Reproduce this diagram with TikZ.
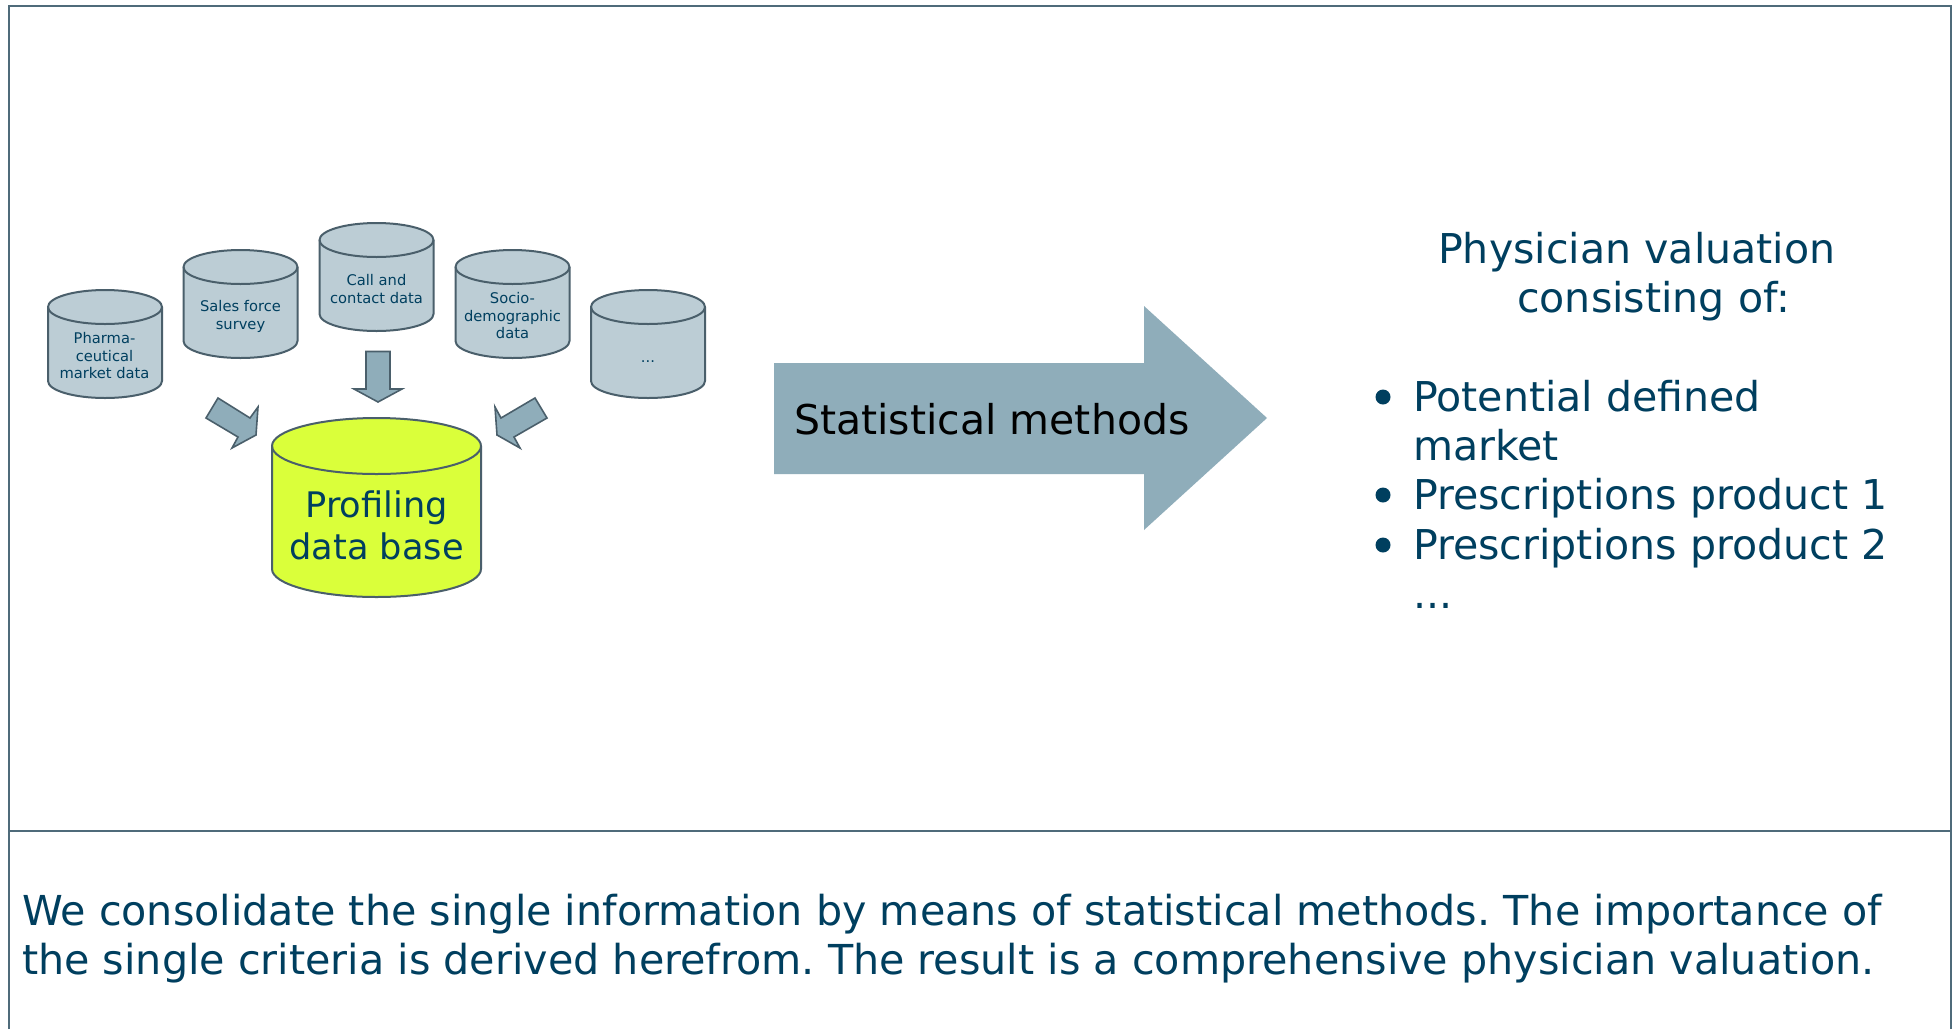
\documentclass[tikz,border=0pt]{standalone}
\usepackage{fontspec}
\setmainfont{DejaVu Sans}
\frenchspacing
\definecolor{inkblue}{HTML}{003F5F}
\definecolor{framecol}{HTML}{4F6B7A}
\definecolor{cylfill}{HTML}{BCCDD5}
\definecolor{arrfill}{HTML}{8FADBA}
\definecolor{yellowfill}{HTML}{DAFF3A}
\definecolor{edgecol}{HTML}{4A5F6B}
\newcommand{\fnt}[1]{\fontsize{#1}{#1}\selectfont}
% centre x, top y, bottom y, half width, half ellipse height, fill
\newcommand{\drum}[6]{%
  \filldraw[cyledge,fill=#6] (#1-#4,#2+#5) -- (#1-#4,#3-#5)
    arc[start angle=180,end angle=0,x radius=#4,y radius=#5]
    -- (#1+#4,#2+#5)
    arc[start angle=0,end angle=-180,x radius=#4,y radius=#5] -- cycle;
  \draw[cyledge] (#1-#4,#2+#5) arc[start angle=180,end angle=0,x radius=#4,y radius=#5];
}
\tikzset{
  cyledge/.style={draw=edgecol,line width=2pt,line join=round},
  flowarrow/.style={draw=edgecol,line width=1.6pt,fill=arrfill,line join=miter},
  small/.style={text=inkblue,font=\fnt{14.7},anchor=base,inner sep=0pt},
  bigtext/.style={text=inkblue,font=\fnt{41.1},anchor=base west,inner sep=0pt},
  bottomtext/.style={text=inkblue,font=\fnt{41.25},anchor=base west,inner sep=0pt},
  dbtext/.style={text=inkblue,font=\fnt{35.2},anchor=base,inner sep=0pt},
}
\begin{document}
\begin{tikzpicture}[x=1pt,y=-1pt]
\useasboundingbox (0,0) rectangle (1952,1029);
\fill[white] (0,0) rectangle (1952,1029);
% frame
\draw[framecol,line width=2pt] (8.5,1029) -- (8.5,6) -- (1950.5,6) -- (1950.5,1029);
\draw[framecol,line width=2pt] (8.5,830.5) -- (1952,830.5);
% data source drums
\drum{105}{290}{398}{57}{17}{cylfill}
\drum{240.5}{250}{358}{57}{17}{cylfill}
\drum{376.5}{223}{331}{57}{17}{cylfill}
\drum{512.5}{250}{358}{57}{17}{cylfill}
\drum{648}{290}{398}{57}{17}{cylfill}
\drum{376.5}{418}{597}{104.5}{28}{yellowfill}
% labels
\node[small] (t1a) at (104.5,343) {Pharma-};
\node[small] (t1b) at (104.5,361) {ceutical};
\node[small] (t1c) at (104.5,378) {market data};
\node[small] (t2a) at (240.5,311) {Sales force};
\node[small] (t2b) at (240.5,329) {survey};
\node[small] (t3a) at (376.5,285) {Call and};
\node[small] (t3b) at (376.5,303) {contact data};
\node[small] (t4a) at (512.5,303) {Socio-};
\node[small] (t4b) at (512.5,321) {demographic};
\node[small] (t4c) at (512.5,338) {data};
\node[small] (t5a) at (648,362) {...};
\node[dbtext] (db1) at (376.5,517) {Profiling};
\node[dbtext] (db2) at (376.5,559) {data base};
% small arrows
\draw[flowarrow] (366,351.5) -- (390,351.5) -- (390,389) -- (402,389) -- (378,402) -- (354,389) -- (366,389) -- cycle;
\draw[flowarrow] (218,398) -- (250,418) -- (258,407) -- (256,435) -- (232,448) -- (238,437) -- (206,418) -- cycle;
\draw[flowarrow] (535,398) -- (547,418) -- (514,437) -- (520,448) -- (497,435) -- (495,407) -- (501,418) -- cycle;
% big arrow
\fill[arrfill] (774,363) -- (1144,363) -- (1144,306) -- (1267,418) -- (1144,530) -- (1144,474) -- (774,474) -- cycle;
\node[font=\fnt{41},text=black,anchor=base west,inner sep=0pt] (stat) at (794,434) {Statistical methods};
% right text
\node[bigtext] (r1) at (1438,263) {Physician valuation};
\node[bigtext] (r2) at (1517,312) {consisting of:};
\node[bigtext] (r3) at (1413,411) {Potential defined};
\node[bigtext] (r4) at (1413,460) {market};
\node[bigtext] (r5) at (1413,509) {Prescriptions product 1};
\node[bigtext] (r6) at (1413,559) {Prescriptions product 2};
\node[bigtext] (r7) at (1413,608) {...};
\fill[inkblue] (1383,397) circle (7.5) (1383,495) circle (7.5) (1383,545) circle (7.5);
% bottom text
\node[bottomtext] (b1) at (22,925) {We consolidate the single information by means of statistical methods. The importance of};
\node[bottomtext] (b2) at (22,974) {the single criteria is derived herefrom. The result is a comprehensive physician valuation.};
\end{tikzpicture}
\end{document}
